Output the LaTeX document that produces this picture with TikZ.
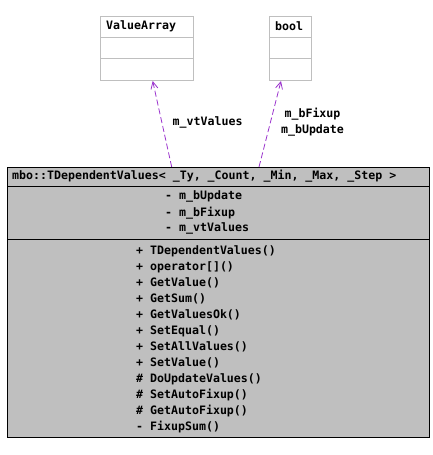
\documentclass[tikz,border=0pt]{standalone}
\usepackage{fontspec}
\setmonofont{DejaVu Sans Mono}
\usetikzlibrary{arrows.meta,calc}
\definecolor{boxgray}{HTML}{BFBFBF}
\definecolor{edgegray}{HTML}{BFBFBF}
\definecolor{arrowpurple}{HTML}{9A32CD}
\tikzset{
  txt/.style={inner sep=0pt, anchor=west, font=\ttfamily\bfseries\fontsize{11.6}{13}\selectfont},
  lbl/.style={inner sep=0pt, font=\ttfamily\bfseries\fontsize{11.6}{16}\selectfont, align=center},
  classbox/.style={draw=black, fill=boxgray, line width=1pt, inner sep=0pt, anchor=north west},
  refbox/.style={draw=edgegray, fill=white, line width=1pt, inner sep=0pt, anchor=north west},
  dep/.style={draw=arrowpurple, dashed, dash pattern=on 6pt off 3pt, line width=0.8pt, -{Straight Barb[length=7pt,width=7pt]}}
}
\begin{document}
\begin{tikzpicture}[x=1pt,y=1pt]
\useasboundingbox (0,0) rectangle (433,455);
% main class
\node[classbox, minimum width=422pt, minimum height=270pt] (main) at (7,288) {};
\draw[line width=1pt] (7,268) -- (429,268);
\draw[line width=1pt] (7,215) -- (429,215);
\node[txt] (title) at (12,279) {mbo::TDependentValues< \_Ty, \_Count, \_Min, \_Max, \_Step >};
\node[txt] (a1) at (165,258.3) {- m\_bUpdate};
\node[txt] (a2) at (165,242.3) {- m\_bFixup};
\node[txt] (a3) at (165,226.3) {- m\_vtValues};
\foreach \t [count=\i from 0] in {+ TDependentValues(), + operator[](), + GetValue(), + GetSum(), + GetValuesOk(), + SetEqual(), + SetAllValues(), + SetValue(), \# DoUpdateValues(), \# SetAutoFixup(), \# GetAutoFixup(), - FixupSum()}
  \node[txt] (m\i) at (136,{204-16*\i}) {\t};
% ValueArray
\node[refbox, minimum width=93pt, minimum height=64pt] (va) at (100,439) {};
\draw[edgegray, line width=1pt] (100,417) -- (193,417);
\draw[edgegray, line width=1pt] (100,396) -- (193,396);
\node[txt] (vat) at (106,429) {ValueArray};
% bool
\node[refbox, minimum width=42pt, minimum height=64pt] (bo) at (269,439) {};
\draw[edgegray, line width=1pt] (269,417) -- (311,417);
\draw[edgegray, line width=1pt] (269,396) -- (311,396);
\node[txt] (bot) at (275,429) {bool};
% dependencies
\coordinate (s1) at ($(main.north west)+(164.7,0)$);
\coordinate (e1) at ($(va.south west)+(52.7,0)$);
\coordinate (s2) at ($(main.north west)+(252,0)$);
\coordinate (e2) at ($(bo.south west)+(12,0)$);
\draw[dep] (s1) -- (e1);
\draw[dep] (s2) -- (e2);
\node[txt] (l1) at (172.5,333) {m\_vtValues};
\node[lbl] (l2) at (312.5,333) {m\_bFixup\\m\_bUpdate};
\end{tikzpicture}
\end{document}
